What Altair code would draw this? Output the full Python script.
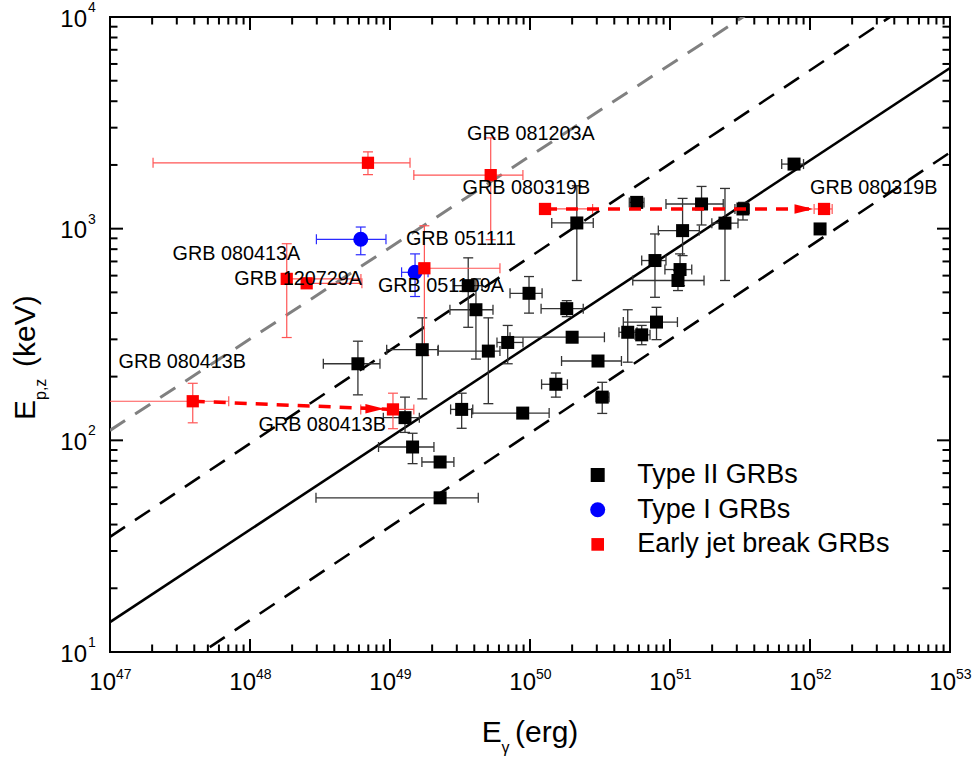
import altair as alt
import pandas as pd

FONT = "Liberation Sans"
W, H = 840, 635

# ---------------- Type II GRBs (black squares) ----------------
t2_E = [5.9e48, 1.28e49, 1.45e49, 2.28e49, 2.28e49, 1.70e49, 3.25e49, 3.62e49, 4.11e49, 5.04e49,
        6.93e49, 8.87e49, 9.84e49, 1.53e50, 1.83e50, 2.0e50, 2.16e50, 3.06e50, 3.28e50, 4.99e50,
        6.28e50, 8.01e50, 5.78e50, 7.81e50, 1.23e51, 1.18e51, 1.14e51, 1.68e51, 2.47e51, 3.32e51,
        7.69e51, 1.18e52]
t2_Elo = [3.34e48, 8.96e48, 8.28e48, 1.69e49, 2.96e48, 9.47e48, 2.71e49, 2.82e49, 2.68e49, 2.20e49,
          5.81e49, 3.83e49, 7.2e49, 1.21e50, 1.2e50, 7.2e49, 1.43e50, 1.68e50, 2.96e50, 4.32e50,
          5.62e50, 4.64e50, 5.12e50, 6.28e50, 8.25e50, 9.2e50, 5.42e50, 9.36e50, 1.99e51, 2.91e51,
          6.28e51, None]
t2_Ehi = [8.48e48, 1.62e49, 2.06e49, 2.86e49, 4.27e49, 2.21e49, 3.90e49, 4.54e49, 5.44e49, 6.1e49,
          8.91e49, 1.37e50, 1.22e50, 1.85e50, 2.40e50, 3.4e50, 2.83e50, 4.5e50, 3.67e50, 5.81e50,
          7.2e50, 1.13e51, 6.52e50, 9.36e50, 1.62e51, 1.43e51, 1.75e51, 2.40e51, 3.06e51, 3.68e51,
          8.99e51, None]
t2_Ep = [230, 128, 93, 79, 53.5, 268, 140, 538, 414, 264,
         290, 134.5, 495, 184, 419, 307, 1064, 237, 160, 324,
         315, 362, 1331, 707, 979, 641, 569, 1308, 1062, 1239,
         2019, 997]
t2_Eplo = [164, 109, 77.6, None, None, 157, 114, 342, 242, 149,
           230, None, 399, 160, 384, None, 569, None, 134, 234,
           283, 299, None, 474, 746, 538, 510, 1041, 569, 1099,
           None, None]
t2_Ephi = [294, 160, 108, None, None, 379, 167, 728, 579, 379,
           349, None, 594, 208, 457, None, 1595, None, 188, 414,
           349, 425, None, 944, 1390, 760, 634, 1583, 1549, 1331,
           None, None]

# ---------------- Type I GRBs (blue circles) ----------------
t1_E = [6.18e48, 1.51e49]
t1_Elo = [2.98e48, 1.21e49]
t1_Ehi = [9.36e48, 1.87e49]
t1_Ep = [891, 622]
t1_Eplo = [753, 478]
t1_Ephi = [1018, 760]

# ---------------- Early jet break GRBs (red squares) ----------------
ejb_E = [6.96e48, 5.24e49, 1.28e50, 1.26e52, 1.83e48, 2.54e48, 1.76e49, 3.9e47, 1.05e49]
ejb_Elo = [2.03e47, 1.48e49, None, 1.07e52, None, None, 1.61e49, 5e46, 6.18e48]
ejb_Ehi = [1.39e49, 8.9e49, 2.8e50, 1.44e52, 6.2e48, 6.3e48, 6.1e49, 7.05e47, 1.48e49]
ejb_Ep = [2047, 1791, 1239, 1239, 579, 552, 650, 153, 140]
ejb_Eplo = [1799, 887, None, None, 306, None, 252, 121, 113.5]
ejb_Ephi = [2307, 2685, None, None, 849, None, 1032, 186, 167]

# ---------------- correlation lines (end points) ----------------
fit_E = [1e47, 1e53]
fit_solid = [13.85, 5740]
fit_upper = [35.0, 15450]
fit_lower = [5.11, 2291]
fit_gray = [111.4, 43550]

# ---------------- early -> late arrows ----------------
arrow_id = ["080413B", "080319B"]
arrow_E0 = [3.9e47, 1.28e50]
arrow_Ep0 = [153, 1239]
arrow_E1 = [1.05e49, 1.26e52]
arrow_Ep1 = [140, 1239]
head_E = [7.8e48, 9.06e51]
head_Ep = [141, 1239]

# ---------------- burst names ----------------
lab_text = ["GRB 081203A", "GRB 080319B", "GRB 080319B", "GRB 051111", "GRB 051109A",
            "GRB 080413A", "GRB 120729A", "GRB 080413B", "GRB 080413B"]
lab_E = [3.55e49, 3.3e49, 1.0e52, 1.30e49, 8.2e48, 2.8e47, 7.73e47, 1.15e47, 1.15e48]
lab_Ep = [2805, 1549, 1549, 894, 538, 760, 579, 234, 118.6]

# ---------------- axes ----------------
x_major = [1e47, 1e48, 1e49, 1e50, 1e51, 1e52, 1e53]
x_exp = ["47", "48", "49", "50", "51", "52", "53"]
y_major = [1e1, 1e2, 1e3, 1e4]
y_exp = ["1", "2", "3", "4"]
x_minor = [m * 10.0 ** k for k in range(47, 53) for m in range(2, 10)]
y_minor = [m * 10.0 ** k for k in range(1, 4) for m in range(2, 10)]

legend_labels = ["Type II GRBs", "Type I GRBs", "Early jet break GRBs"]
legend_colors = ["black", "#0000ff", "#ff0000"]
legend_shapes = ["square", "circle", "square"]
legend_sizes = [196, 225, 160]

xs = alt.Scale(type="log", domain=[1e47, 1e53], nice=False)
ys = alt.Scale(type="log", domain=[10, 1e4], nice=False)


def X(f):
    return alt.X(f, type="quantitative", scale=xs, axis=None)


def Y(f):
    return alt.Y(f, type="quantitative", scale=ys, axis=None)


def error_bars(E, Elo, Ehi, Ep, Eplo, Ephi, color, width):
    xb, xc, yb, yc = [], [], [], []
    for e, lo, hi, p, plo, phi in zip(E, Elo, Ehi, Ep, Eplo, Ephi):
        if lo is not None or hi is not None:
            xb.append({"a": lo if lo is not None else e, "b": hi if hi is not None else e, "y": p})
            for v in (lo, hi):
                if v is not None:
                    xc.append({"x": v, "y": p})
        if plo is not None or phi is not None:
            yb.append({"a": plo if plo is not None else p, "b": phi if phi is not None else p, "x": e})
            for v in (plo, phi):
                if v is not None:
                    yc.append({"x": e, "y": v})
    layers = []
    if xb:
        layers.append(alt.Chart(pd.DataFrame(xb)).mark_rule(color=color, strokeWidth=width, clip=True)
                      .encode(x=X("a"), x2=alt.X2("b"), y=Y("y")))
        layers.append(alt.Chart(pd.DataFrame(xc)).mark_tick(orient="vertical", size=10, thickness=width,
                                                             color=color, clip=True, opacity=1)
                      .encode(x=X("x"), y=Y("y")))
    if yb:
        layers.append(alt.Chart(pd.DataFrame(yb)).mark_rule(color=color, strokeWidth=width, clip=True)
                      .encode(y=Y("a"), y2=alt.Y2("b"), x=X("x")))
        layers.append(alt.Chart(pd.DataFrame(yc)).mark_tick(orient="horizontal", size=10, thickness=width,
                                                             color=color, clip=True, opacity=1)
                      .encode(x=X("x"), y=Y("y")))
    return layers


def fit_line(vals, color, dash, width):
    df = pd.DataFrame({"E": fit_E, "Ep": vals})
    kw = dict(color=color, strokeWidth=width, clip=True)
    if dash:
        kw["strokeDash"] = dash
    return alt.Chart(df).mark_line(**kw).encode(x=X("E"), y=Y("Ep"))


layers = [
    fit_line(fit_gray, "#808080", [18, 12], 3),
    fit_line(fit_upper, "black", [18, 12], 2.6),
    fit_line(fit_lower, "black", [18, 12], 2.6),
    fit_line(fit_solid, "black", None, 2.6),
]

layers += error_bars(t2_E, t2_Elo, t2_Ehi, t2_Ep, t2_Eplo, t2_Ephi, "#333333", 1.3)
layers += error_bars(t1_E, t1_Elo, t1_Ehi, t1_Ep, t1_Eplo, t1_Ephi, "#2a2aff", 1.2)
layers += error_bars(ejb_E, ejb_Elo, ejb_Ehi, ejb_Ep, ejb_Eplo, ejb_Ephi, "#ff5555", 1.2)

t2_df = pd.DataFrame({"E": t2_E, "Ep": t2_Ep})
t1_df = pd.DataFrame({"E": t1_E, "Ep": t1_Ep})
ejb_df = pd.DataFrame({"E": ejb_E, "Ep": ejb_Ep})

layers.append(alt.Chart(t2_df).mark_point(shape="square", filled=True, size=169, color="black",
                                          opacity=1, clip=True).encode(x=X("E"), y=Y("Ep")))
layers.append(alt.Chart(t1_df).mark_point(shape="circle", filled=True, size=225, color="#0000ff",
                                          opacity=1, clip=True).encode(x=X("E"), y=Y("Ep")))
layers.append(alt.Chart(ejb_df).mark_point(shape="square", filled=True, size=150, color="#ff0000",
                                           opacity=1, clip=True).encode(x=X("E"), y=Y("Ep")))

# dashed arrows from the early to the late jet-break estimate
arrow_rows = []
for g, e0, p0, e1, p1 in zip(arrow_id, arrow_E0, arrow_Ep0, arrow_E1, arrow_Ep1):
    arrow_rows.append({"g": g, "E": e0, "Ep": p0, "o": 0})
    arrow_rows.append({"g": g, "E": e1, "Ep": p1, "o": 1})
layers.append(alt.Chart(pd.DataFrame(arrow_rows)).mark_line(color="#ff0000", strokeWidth=3.5,
                                                           strokeDash=[12, 9], clip=True)
              .encode(x=X("E"), y=Y("Ep"), detail="g:N", order="o:Q"))
layers.append(alt.Chart(pd.DataFrame({"E": head_E, "Ep": head_Ep}))
              .mark_point(shape="M-1,-0.5L1,0L-1,0.5Z", filled=True, size=361, color="#ff0000", opacity=1)
              .encode(x=X("E"), y=Y("Ep")))

# burst names
layers.append(alt.Chart(pd.DataFrame({"t": lab_text, "E": lab_E, "Ep": lab_Ep}))
              .mark_text(font=FONT, fontSize=19.8, align="left", baseline="middle", color="black")
              .encode(x=X("E"), y=Y("Ep"), text="t:N"))

# frame ticks (pointing inward on all four sides)
xmaj = pd.DataFrame({"v": x_major})
xmin = pd.DataFrame({"v": x_minor})
ymaj = pd.DataFrame({"v": y_major})
ymin = pd.DataFrame({"v": y_minor})
for df, ln in ((xmaj, 13), (xmin, 7.5)):
    for yy in (H - ln / 2, ln / 2):
        layers.append(alt.Chart(df).mark_tick(orient="vertical", size=ln, thickness=2, color="black", opacity=1)
                      .encode(x=X("v"), y=alt.value(yy)))
for df, ln in ((ymaj, 13), (ymin, 7.5)):
    for xx in (ln / 2, W - ln / 2):
        layers.append(alt.Chart(df).mark_tick(orient="horizontal", size=ln, thickness=2, color="black", opacity=1)
                      .encode(y=Y("v"), x=alt.value(xx)))

# tick labels as powers of ten
xlab = pd.DataFrame({"v": x_major, "e": x_exp})
ylab = pd.DataFrame({"v": y_major, "e": y_exp})
layers.append(alt.Chart(xlab).mark_text(font=FONT, fontSize=24, align="right", baseline="alphabetic", dx=6)
              .encode(x=X("v"), y=alt.value(H + 38), text=alt.value("10")))
layers.append(alt.Chart(xlab).mark_text(font=FONT, fontSize=14, align="left", baseline="alphabetic", dx=6)
              .encode(x=X("v"), y=alt.value(H + 26.5), text="e:N"))
layers.append(alt.Chart(ylab).mark_text(font=FONT, fontSize=24, align="right", baseline="alphabetic", dy=9.5)
              .encode(y=Y("v"), x=alt.value(-23), text=alt.value("10")))
layers.append(alt.Chart(ylab).mark_text(font=FONT, fontSize=14, align="left", baseline="alphabetic", dy=-5)
              .encode(y=Y("v"), x=alt.value(-22), text="e:N"))

# axis titles
base = alt.Chart(pd.DataFrame({"k": [0]}))


def title_text(txt, x, y, size, angle=0):
    return base.mark_text(font=FONT, fontSize=size, align="left", baseline="alphabetic",
                          angle=angle, color="black").encode(x=alt.value(x), y=alt.value(y), text=alt.value(txt))


layers += [
    title_text("E", 371.7, 725, 30),
    title_text("γ", 391.5, 736, 16),
    title_text("(erg)", 405, 725, 30),
    title_text("E", -75, 403, 30, 270),
    title_text("p,z", -63.7, 383, 16, 270),
    title_text("(keV)", -75, 350, 30, 270),
]

# legend
for i, (lab, col, shp, sz) in enumerate(zip(legend_labels, legend_colors, legend_shapes, legend_sizes)):
    yy = 458 + 34.7 * i
    layers.append(base.mark_point(shape=shp, filled=True, size=sz, color=col, opacity=1)
                  .encode(x=alt.value(487.7), y=alt.value(yy)))
    layers.append(base.mark_text(font=FONT, fontSize=27, align="left", baseline="middle", color="black")
                  .encode(x=alt.value(527.3), y=alt.value(yy), text=alt.value(lab)))

chart = alt.layer(*layers).properties(
    width=W, height=H,
    padding={"left": 110, "top": 17, "right": 27, "bottom": 110},
    autosize=alt.AutoSizeParams(type="none"),
    background="white",
).configure_view(stroke="black", strokeWidth=2)

chart.save("out.html", embed_options={"renderer": "svg", "actions": False})
